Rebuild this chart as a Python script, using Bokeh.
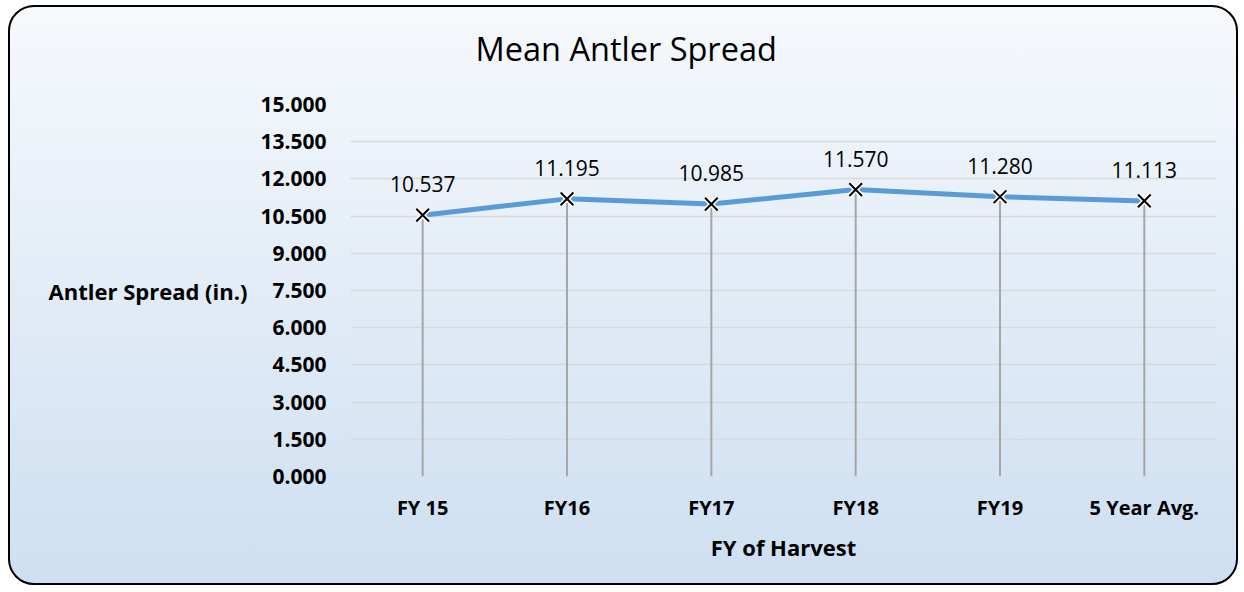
from bokeh.plotting import figure
from bokeh.models import FixedTicker, FactorRange, Range1d, NumeralTickFormatter, Title
from bokeh.core.properties import value
from bokeh.embed import file_html
from bokeh.resources import INLINE

categories = ["FY 15", "FY16", "FY17", "FY18", "FY19", "5 Year Avg."]
spread = [10.537, 11.195, 10.985, 11.570, 11.280, 11.113]
y_ticks = [0.0, 1.5, 3.0, 4.5, 6.0, 7.5, 9.0, 10.5, 12.0, 13.5, 15.0]
point_labels = ["10.537", "11.195", "10.985", "11.570", "11.280", "11.113"]
title_text = "Mean Antler Spread"
x_title = "FY of Harvest"
y_title = "Antler Spread (in.)"

FONT = "Open Sans"

p = figure(
    x_range=FactorRange(*categories, range_padding=0),
    y_range=Range1d(0, 15),
    width=1230, height=580,
    output_backend="svg", toolbar_location=None,
    min_border_left=340, min_border_right=24,
    min_border_top=97, min_border_bottom=111,
)
p.title = None
p.background_fill_color = None
p.border_fill_color = None
p.outline_line_color = None
p.styles = {
    "margin-left": "8px",
    "margin-top": "5px",
    "border": "2px solid black",
    "border-radius": "26px",
    "background": "linear-gradient(to bottom, #f6f9fc 0%, #e4edf7 45%, #cddff1 100%)",
}

# blank spacer panel between the frame and the title
p.add_layout(Title(text=" ", text_font_size="10px", standoff=20), "above")
# chart title
p.add_layout(Title(text=title_text, align="left", offset=125, vertical_align="middle",
                   standoff=0, text_font=FONT, text_font_style="normal",
                   text_font_size="32.5px", text_color="black"), "above")

# axes
yax = p.left[0]
xax = p.below[0]
yax.ticker = FixedTicker(ticks=y_ticks)
yax.formatter = NumeralTickFormatter(format="0.000")
for ax in (xax, yax):
    ax.axis_line_color = None
    ax.major_tick_line_color = None
    ax.minor_tick_line_color = None
    ax.major_label_text_font = FONT
    ax.major_label_text_font_style = "bold"
    ax.major_label_text_color = "black"
    ax.axis_label_text_font = FONT
    ax.axis_label_text_font_style = "bold"
    ax.axis_label_text_color = "black"

yax.major_label_text_font_size = "21px"
yax.major_label_standoff = 18
yax.axis_label = y_title
yax.axis_label_orientation = "horizontal"
yax.axis_label_text_font_size = "22px"
yax.axis_label_standoff = 10

xax.major_label_text_font_size = "20px"
xax.major_label_standoff = 11
xax.axis_label = x_title
xax.axis_label_text_font_size = "22px"
xax.axis_label_standoff = 8

p.xgrid.grid_line_color = None
p.ygrid.grid_line_color = "#d9d9d9"
p.ygrid.grid_line_width = 1.5

# drop lines
p.segment(x0=categories, y0=[0] * len(categories), x1=categories, y1=spread,
          line_color="#a6a6a6", line_width=2)
# series line
p.line(categories, spread, line_color="#5b9bd5", line_width=5)
# markers
p.scatter(categories, spread, marker="x", size=18, line_color="white", line_width=5)
p.scatter(categories, spread, marker="x", size=18, line_color="black", line_width=2)

# data labels
p.text(categories, spread, text=point_labels, text_align="center", text_baseline="middle",
       y_offset=-31, text_font=value(FONT), text_font_size="21px", text_color="black")

open("out.html", "w").write(file_html(p, INLINE))
